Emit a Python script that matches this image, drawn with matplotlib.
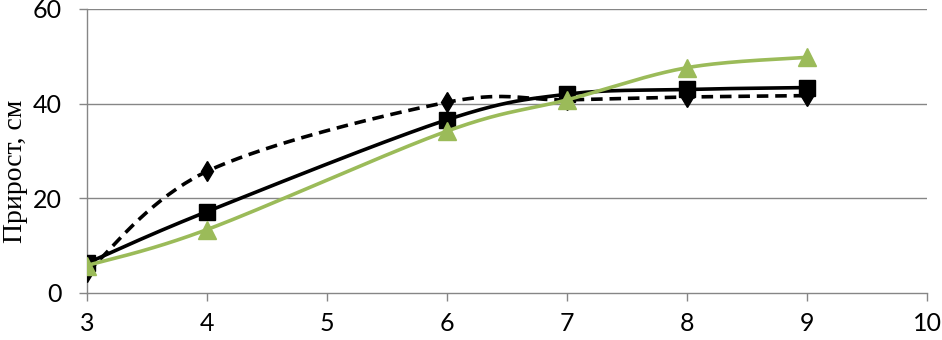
import numpy as np
import matplotlib
matplotlib.use("Agg")
import matplotlib.pyplot as plt

# ==============================
# Data
# ==============================

x_vals = [3, 4, 6, 7, 8, 9]
series_dashed = [4.4, 25.7, 40.3, 40.8, 41.4, 41.7]
series_solid = [6.3, 17.2, 36.6, 42.0, 43.0, 43.4]
series_green = [5.8, 13.4, 34.2, 40.8, 47.6, 49.8]

x_ticks = [3, 4, 5, 6, 7, 8, 9, 10]
y_ticks = [0, 20, 40, 60]


def smooth(xs, ys, n=40):
    # Excel-like smoothed line: cubic Bezier with Catmull-Rom control points
    xs = np.asarray(xs, float)
    ys = np.asarray(ys, float)
    px = np.concatenate([[xs[0]], xs, [xs[-1]]])
    py = np.concatenate([[ys[0]], ys, [ys[-1]]])
    out_x, out_y = [], []
    t = np.linspace(0, 1, n)
    for i in range(1, len(px) - 2):
        p0 = np.array([px[i], py[i]])
        p3 = np.array([px[i + 1], py[i + 1]])
        c1 = p0 + (np.array([px[i + 1], py[i + 1]]) - np.array([px[i - 1], py[i - 1]])) / 6
        c2 = p3 - (np.array([px[i + 2], py[i + 2]]) - np.array([px[i], py[i]])) / 6
        b = ((1 - t) ** 3)[:, None] * p0 + (3 * (1 - t) ** 2 * t)[:, None] * c1 \
            + (3 * (1 - t) * t ** 2)[:, None] * c2 + (t ** 3)[:, None] * p3
        out_x.extend(b[:, 0])
        out_y.extend(b[:, 1])
    return out_x, out_y


# ==============================
# Figure
# ==============================

fig = plt.figure(figsize=(9.42, 3.4), dpi=100)
ax = fig.add_axes([87 / 942, 1 - 293 / 340, 840 / 942, 284 / 340])

grid_col = "#868686"
green = "#9BBB59"

sx, sy = smooth(x_vals, series_dashed)
ax.plot(sx, sy, color="black", lw=2.6, ls=(0, (3.2, 1.9)), zorder=3)
ax.plot(x_vals, series_dashed, ls="none", marker="d", ms=10, color="black", zorder=3)

sx, sy = smooth(x_vals, series_solid)
ax.plot(sx, sy, color="black", lw=2.6, zorder=4)
ax.plot(x_vals, series_solid, ls="none", marker="s", ms=11, color="black", zorder=4)

sx, sy = smooth(x_vals, series_green)
ax.plot(sx, sy, color=green, lw=2.6, zorder=5)
ax.plot(x_vals, series_green, ls="none", marker="^", ms=12.5, color=green, zorder=5)

ax.set_xlim(3, 10)
ax.set_ylim(0, 60)
ax.set_xticks(x_ticks)
ax.set_yticks(y_ticks)

for y in y_ticks[1:]:
    ax.axhline(y, color=grid_col, lw=1.0, zorder=1)

for side in ["top", "right"]:
    ax.spines[side].set_visible(False)
for side in ["left", "bottom"]:
    ax.spines[side].set_color(grid_col)
    ax.spines[side].set_linewidth(1.0)

ax.tick_params(axis="x", direction="out", length=6, width=1, color=grid_col,
               pad=8, labelsize=18)
ax.tick_params(axis="y", direction="out", length=6, width=1, color=grid_col,
               pad=12, labelsize=18)
for lab in ax.get_xticklabels() + ax.get_yticklabels():
    lab.set_family("Lato")

ax.set_ylabel("Прирост, см", fontsize=20, family="Liberation Serif")
ax.yaxis.set_label_coords(-0.07, 0.43)

fig.savefig("out.png", dpi=100)
